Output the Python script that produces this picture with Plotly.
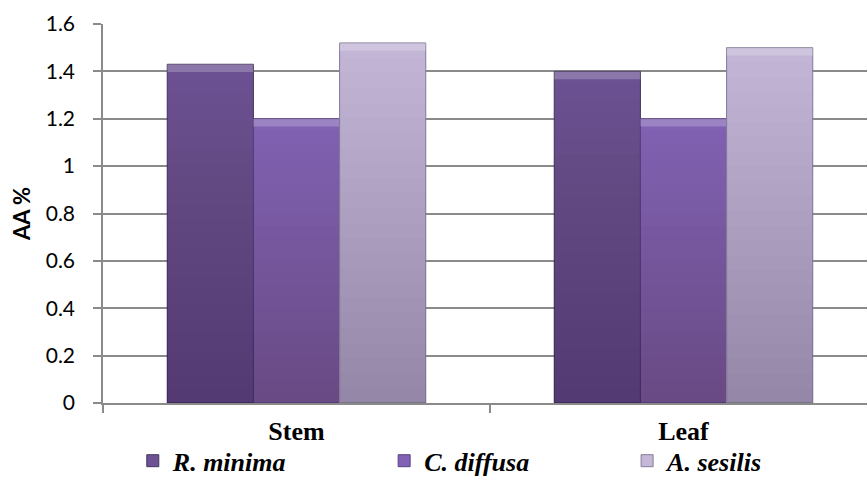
import plotly.graph_objects as go

# Ascorbic acid content (%) by plant part
parts = ["Stem", "Leaf"]
species = ["R. minima", "C. diffusa", "A. sesilis"]
r_minima = [1.43, 1.40]
c_diffusa = [1.20, 1.20]
a_sesilis = [1.52, 1.50]
y_ticks = [0, 0.2, 0.4, 0.6, 0.8, 1, 1.2, 1.4, 1.6]
y_tick_labels = ["0", "0.2", "0.4", "0.6", "0.8", "1", "1.2", "1.4", "1.6"]

series = [r_minima, c_diffusa, a_sesilis]
fills = ["#6c5294", "#8262b4", "#c4b7d8"]
edges = ["#45345f", "#5a4282", "#857a98"]
legend_ids = ["legend", "legend2", "legend3"]
legend_x = [0.039, 0.368, 0.686]

serif = "Liberation Serif, Times New Roman, serif"

# shading: translucent layers, darker towards the base of each bar
shade_steps = 24
shade_col = "rgba(12,4,40,0.0095)"
# light bevel band along the top edge of each bar
bevel_depth = 0.033
bevel_col = "rgba(255,255,255,0.22)"

fig = go.Figure()
for i, (name, vals, fill, edge, lid) in enumerate(
        zip(species, series, fills, edges, legend_ids)):
    grp = str(i)
    fig.add_trace(go.Bar(
        x=parts, y=vals, name="<b><i>" + name + "</i></b>",
        marker=dict(color=fill, line=dict(color=edge, width=1)),
        legend=lid, offsetgroup=grp,
    ))
    for k in range(1, shade_steps + 1):
        fig.add_trace(go.Bar(
            x=parts, y=[v * k / shade_steps for v in vals],
            marker=dict(color=shade_col, line=dict(width=0)),
            offsetgroup=grp, showlegend=False, hoverinfo="skip",
        ))
    fig.add_trace(go.Bar(
        x=parts, y=[bevel_depth] * len(vals),
        base=[v - bevel_depth for v in vals],
        marker=dict(color=bevel_col, line=dict(width=0)),
        offsetgroup=grp, showlegend=False, hoverinfo="skip",
    ))

legend_style = dict(
    orientation="h", xanchor="left", yref="container", y=0.04,
    yanchor="middle",
    font=dict(family=serif, size=26, color="black"),
    bgcolor="rgba(0,0,0,0)", borderwidth=0,
)
legend_layout = {lid: dict(legend_style, x=lx) for lid, lx in zip(legend_ids, legend_x)}

grid_col = "#8a8a8a"
fig.update_layout(
    width=867, height=480,
    margin=dict(l=103, r=0, t=24, b=77, autoexpand=False),
    paper_bgcolor="white", plot_bgcolor="white",
    barmode="group", bargap=0.332, bargroupgap=0,
    showlegend=True,
    **legend_layout,
    xaxis=dict(
        range=[-0.5, -0.5 + 764 / 387],
        showline=True, linecolor=grid_col, linewidth=1.5,
        ticks="outside", tickson="boundaries", ticklen=8, tickcolor=grid_col,
        tickwidth=1.5, ticklabelstandoff=4,
        tickfont=dict(family=serif, size=26, color="black", weight="bold"),
        showgrid=False, zeroline=False,
    ),
    yaxis=dict(
        range=[0, 1.6],
        tickvals=y_ticks, ticktext=y_tick_labels,
        showline=True, linecolor=grid_col, linewidth=1.5,
        ticks="outside", ticklen=8, tickcolor=grid_col, tickwidth=1.5,
        ticklabelstandoff=14,
        tickfont=dict(family="Lato", size=21, color="black"),
        showgrid=True, gridcolor=grid_col, gridwidth=1.5,
        zeroline=False,
        title=dict(text="AA %", standoff=9,
                   font=dict(family="Lato", size=22, color="black",
                             weight="bold")),
    ),
)

fig.write_html("out.html")
